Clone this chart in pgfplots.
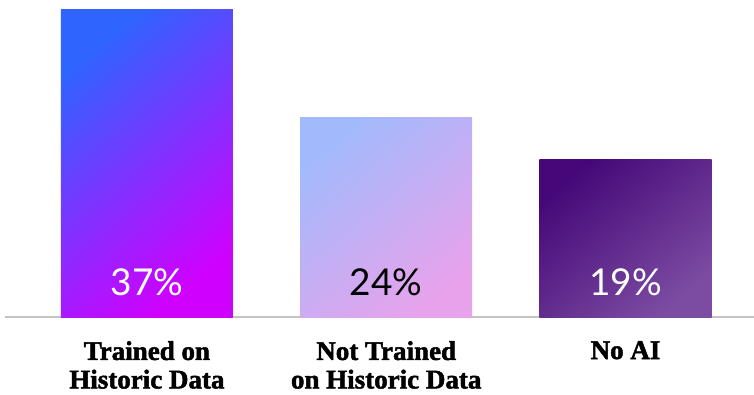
\documentclass[border=0pt]{standalone}
\usepackage{fontspec}
\setmainfont{Liberation Serif}
\newfontfamily\labfont{Liberation Serif}[BoldFeatures={FakeBold=1.8}]
\newfontfamily\pctfont{Lato}
\usepackage{pgfplots}
\pgfplotsset{compat=1.18}
\definecolor{bAtl}{HTML}{2F64FF}
\definecolor{bAbr}{HTML}{D000FF}
\definecolor{bBtl}{HTML}{A2BAFC}
\definecolor{bBbr}{HTML}{E8A2EC}
\definecolor{bCtl}{HTML}{460878}
\definecolor{bCbr}{HTML}{7C4CA2}
\definecolor{baseln}{HTML}{C4C4C4}
\begin{document}
\begin{tikzpicture}
\useasboundingbox (-5pt,-77pt) rectangle (749pt,317pt);
\begin{axis}[
  at={(0pt,0pt)}, anchor=south west,
  scale only axis, width=749pt, height=317pt,
  xmin=-0.593, xmax=2.537, ymin=0, ymax=38.2,
  axis y line=none, axis x line*=bottom,
  x axis line style={baseln, line width=2pt, -},
  xtick={0,1,2}, major tick length=0pt,
  xticklabels={{Trained on\\Historic Data},{Not Trained\\on Historic Data},{No AI}},
  xticklabel style={align=center, inner sep=0pt, anchor=north, yshift=-24pt,
    font=\labfont\fontsize{27}{28.5}\selectfont\bfseries},
  ytick=\empty,
  clip=false,
]
\addplot[ybar, bar width=0.719, bar shift=0pt, draw=none,
  top color=bAtl, bottom color=bAbr, shading angle=40] coordinates {(0,37)};
\addplot[ybar, bar width=0.719, bar shift=0pt, draw=none,
  top color=bBtl, bottom color=bBbr, shading angle=40] coordinates {(1,24)};
\addplot[ybar, bar width=0.719, bar shift=0pt, draw=none,
  top color=bCtl, bottom color=bCbr, shading angle=40] coordinates {(2,19)};
\addplot[draw=none, mark=none, nodes near coords, point meta=explicit symbolic,
  every node near coord/.style={anchor=base, inner sep=0pt, text=white,
    font=\pctfont\fontsize{37}{40}\selectfont}]
  coordinates {(0,2.65) [37\%] (2,2.65) [19\%]};
\addplot[draw=none, mark=none, nodes near coords, point meta=explicit symbolic,
  every node near coord/.style={anchor=base, inner sep=0pt, text=black,
    font=\pctfont\fontsize{37}{40}\selectfont}]
  coordinates {(1,2.65) [24\%]};
\end{axis}
\end{tikzpicture}
\end{document}
